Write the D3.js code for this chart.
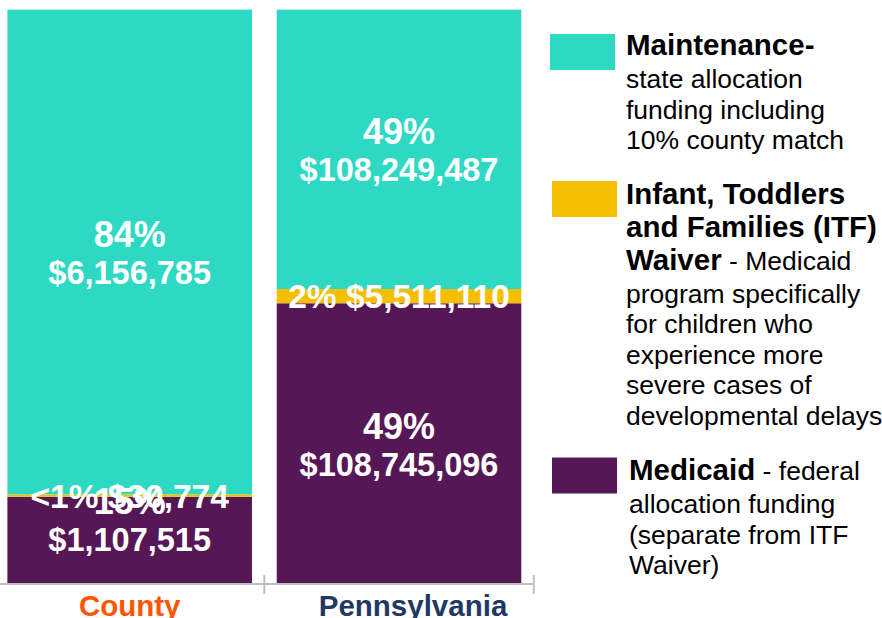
<!DOCTYPE html>
<html>
<head>
<meta charset="utf-8">
<script src="https://cdn.jsdelivr.net/npm/d3@7"></script>
<style>
  body { margin: 0; background: #fff; }
  svg { display: block; font-family: "Liberation Sans", Arial, sans-serif; }
</style>
</head>
<body>
<div id="chart"></div>
<script>
// data
var categories = ["County", "Pennsylvania"];
var medicaid = [1107515, 108745096];
var itfWaiver = [30774, 5511110];
var maintenance = [6156785, 108249487];
var medicaidPct = ["15%", "49%"];
var itfPct = ["<1%", "2%"];
var maintenancePct = ["84%", "49%"];
var seriesKeys = ["medicaid", "itf", "maintenance"];

var colors = { medicaid: "#561756", itf: "#F6BE00", maintenance: "#2ED9C4" };
var catColors = { County: "#FF5500", Pennsylvania: "#1F3864" };
var catShift = { County: 0, Pennsylvania: 14 }; // label placement in the original

var width = 882, height = 618;

var svg = d3.select("#chart")
    .append("svg")
    .attr("width", width)
    .attr("height", height);

// build rows for stacking
var rows = categories.map(function(c, i) {
    return { cat: c, medicaid: medicaid[i], itf: itfWaiver[i], maintenance: maintenance[i] };
});

var stacked = d3.stack()
    .keys(seriesKeys)
    .offset(d3.stackOffsetExpand)(rows);

var x = d3.scaleBand()
    .domain(categories)
    .range([-5, 533.7])
    .paddingInner(0.092)
    .paddingOuter(0.046);

var y = d3.scaleLinear()
    .domain([0, 1])
    .range([584, 9.6]);

// bars
svg.selectAll("g.series")
    .data(stacked)
    .enter().append("g")
    .attr("class", "series")
    .attr("fill", function(d) { return colors[d.key]; })
    .selectAll("rect")
    .data(function(d) { return d; })
    .enter().append("rect")
    .attr("x", function(d) { return x(d.data.cat); })
    .attr("y", function(d) { return y(d[1]); })
    .attr("width", x.bandwidth())
    .attr("height", function(d) { return y(d[0]) - y(d[1]); });

// axis line + ticks between categories
var axisY = y(0);
svg.append("line")
    .attr("x1", 0).attr("x2", x.range()[1])
    .attr("y1", axisY).attr("y2", axisY)
    .attr("stroke", "#BFBFBF").attr("stroke-width", 2);

var step = x.step();
var bounds = d3.range(categories.length + 1).map(function(i) { return x.range()[0] + i * step; });
svg.selectAll("line.tick")
    .data(bounds)
    .enter().append("line")
    .attr("class", "tick")
    .attr("x1", function(d) { return d; }).attr("x2", function(d) { return d; })
    .attr("y1", axisY - 9).attr("y2", axisY + 10)
    .attr("stroke", "#BFBFBF").attr("stroke-width", 2);

// category labels
svg.selectAll("text.cat")
    .data(categories)
    .enter().append("text")
    .attr("class", "cat")
    .attr("x", function(d) { return x(d) + x.bandwidth() / 2 + catShift[d]; })
    .attr("y", 616)
    .attr("text-anchor", "middle")
    .style("font-size", "29.5px")
    .style("font-weight", "bold")
    .style("fill", function(d) { return catColors[d]; })
    .text(function(d) { return d; });

// data labels
var fmt = d3.format("$,");
var nudge = { "medicaid-0": -21 };
var pcts = { medicaid: medicaidPct, itf: itfPct, maintenance: maintenancePct };

stacked.forEach(function(s) {
    s.forEach(function(d, i) {
        var cx = x(d.data.cat) + x.bandwidth() / 2;
        var cy = (y(d[0]) + y(d[1])) / 2 + (nudge[s.key + "-" + i] || 0);
        var val = d.data[s.key];
        if (s.key === "itf") {
            svg.append("text")
                .attr("x", cx).attr("y", cy + 12)
                .attr("text-anchor", "middle")
                .style("font-size", "33.5px")
                .style("font-weight", "bold")
                .style("fill", "#fff")
                .text(pcts[s.key][i] + " " + fmt(val));
        } else {
            svg.append("text")
                .attr("x", cx).attr("y", cy - 5)
                .attr("text-anchor", "middle")
                .style("font-size", "36px")
                .style("font-weight", "bold")
                .style("fill", "#fff")
                .text(pcts[s.key][i]);
            svg.append("text")
                .attr("x", cx).attr("y", cy + 32)
                .attr("text-anchor", "middle")
                .style("font-size", "32.5px")
                .style("font-weight", "bold")
                .style("fill", "#fff")
                .text(fmt(val));
        }
    });
});

// legend
var legend = [
    { key: "maintenance", sx: 550, sy: 34, tx: 626, ty: 55, lines: [
        [["Maintenance-", true]],
        [["state allocation", false]],
        [["funding including", false]],
        [["10% county match", false]]
    ]},
    { key: "itf", sx: 552, sy: 181, tx: 626, ty: 203.5, lines: [
        [["Infant, Toddlers", true]],
        [["and Families (ITF)", true]],
        [["Waiver", true], [" - Medicaid", false]],
        [["program specifically", false]],
        [["for children who", false]],
        [["experience more", false]],
        [["severe cases of", false]],
        [["developmental delays", false]]
    ]},
    { key: "medicaid", sx: 552, sy: 457.5, tx: 629, ty: 480, lines: [
        [["Medicaid", true], [" - federal", false]],
        [["allocation funding", false]],
        [["(separate from ITF", false]],
        [["Waiver)", false]]
    ]}
];

legend.forEach(function(item) {
    svg.append("rect")
        .attr("x", item.sx).attr("y", item.sy)
        .attr("width", 65).attr("height", 36)
        .attr("fill", colors[item.key]);
    var by = item.ty;
    item.lines.forEach(function(line, li) {
        if (li > 0) {
            var prevHasBold = item.lines[li - 1].some(function(p) { return p[1]; });
            by += prevHasBold ? 33 : 30.5;
        }
        var t = svg.append("text")
            .attr("x", item.tx).attr("y", by)
            .style("fill", "#000")
            .attr("xml:space", "preserve");
        line.forEach(function(part) {
            t.append("tspan")
                .style("font-weight", part[1] ? "bold" : "normal")
                .style("font-size", part[1] ? "29.5px" : "26.5px")
                .text(part[0]);
        });
    });
});
</script>
</body>
</html>
